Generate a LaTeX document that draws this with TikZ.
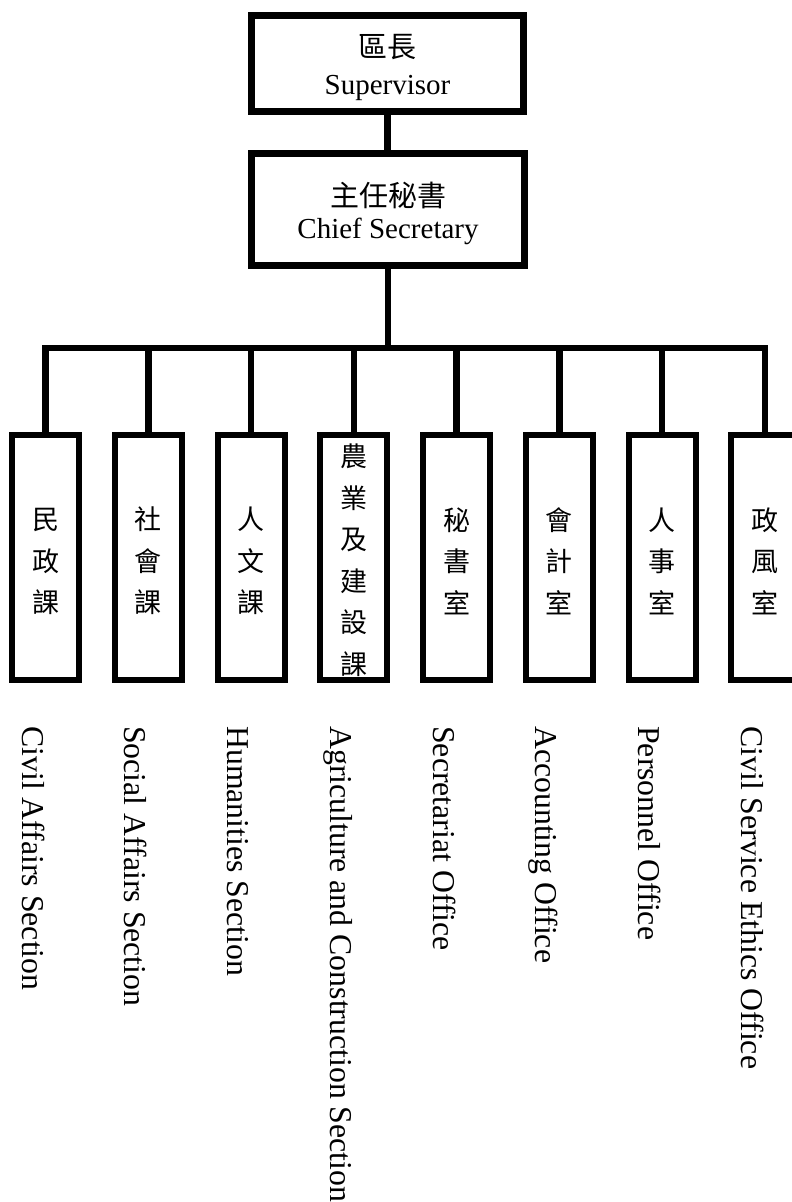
\documentclass[tikz,border=0pt]{standalone}
\usepackage{fontspec}
\setmainfont{Liberation Serif}
\newfontfamily\cjk{Noto Sans CJK TC}
\newcommand\myraise[1]{\rule{0pt}{#1}}
\begin{document}
\begin{tikzpicture}[x=1bp,y=-1bp,
  topbox/.style={draw=black,line width=7bp,fill=white,inner sep=0pt,align=center},
  unitbox/.style={draw=black,line width=6bp,fill=white,inner sep=0pt,align=center,
    minimum width=67bp,minimum height=245bp,font=\cjk\fontsize{27bp}{41.5bp}\selectfont},
  conn/.style={draw=black,line width=6.5bp,line join=miter},
  enlabel/.style={rotate=-90,anchor=base west,inner sep=0pt,font=\fontsize{31.8bp}{36bp}\selectfont}]
\useasboundingbox (0,0) rectangle (792,1202);
% top boxes
\node[topbox,minimum width=272bp,minimum height=96bp,font=\fontsize{29bp}{37bp}\selectfont] (sup) at (387.5,63.5) {\myraise{31.5bp}{\cjk 區長}\\Supervisor};
\node[topbox,minimum width=273bp,minimum height=112bp,font=\fontsize{29bp}{32bp}\selectfont] (chief) at (388,209) {\myraise{33.5bp}{\cjk 主任秘書}\\Chief Secretary};
% unit boxes
\node[unitbox] (b1) at (45.5,557.5) {\myraise{30bp}民\\政\\課};
\node[unitbox] (b2) at (148.25,557.5) {\myraise{30bp}社\\會\\課};
\node[unitbox] (b3) at (251,557.5) {\myraise{30bp}人\\文\\課};
\node[unitbox] (b4) at (353.75,557.5) {\myraise{28bp}農\\業\\及\\建\\設\\課};
\node[unitbox] (b5) at (456.5,557.5) {\myraise{30bp}秘\\書\\室};
\node[unitbox] (b6) at (559.25,557.5) {\myraise{30bp}會\\計\\室};
\node[unitbox] (b7) at (662,557.5) {\myraise{30bp}人\\事\\室};
\node[unitbox] (b8) at (764.75,557.5) {\myraise{30bp}政\\風\\室};
% connectors
\coordinate (bar) at (388,348);
\draw[conn] (sup.south) -- (sup.south |- chief.north);
\draw[conn] (chief.south) -- (bar);
\draw[conn] (b1.north) |- (bar) -| (b8.north);
\foreach \i in {2,...,7}{\draw[conn] (b\i.north) -- (b\i.north |- bar);}
% English labels
\node[enlabel] (l1) at (22,726) {Civil Affairs Section};
\node[enlabel] (l2) at (124.75,726) {Social Affairs Section};
\node[enlabel] (l3) at (227.5,726) {Humanities Section};
\node[enlabel] (l4) at (330.25,726) {Agriculture and Construction Section};
\node[enlabel] (l5) at (433,726) {Secretariat Office};
\node[enlabel] (l6) at (535.75,726) {Accounting Office};
\node[enlabel] (l7) at (638.5,726) {Personnel Office};
\node[enlabel] (l8) at (741.25,726) {Civil Service Ethics Office};
\end{tikzpicture}
\end{document}
